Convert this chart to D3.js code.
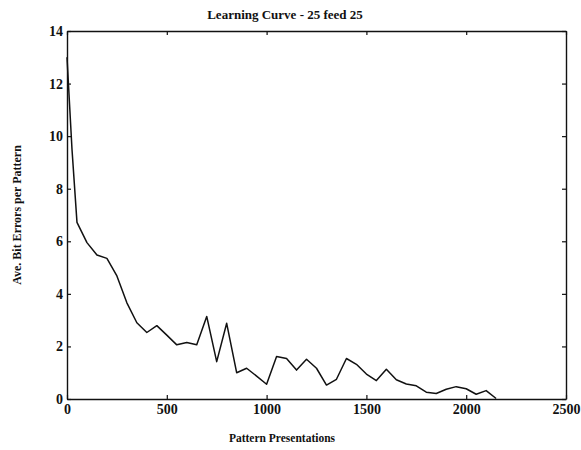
<!DOCTYPE html>
<html>
<head>
<meta charset="utf-8">
<script src="https://cdnjs.cloudflare.com/ajax/libs/d3/7.8.5/d3.min.js"></script>
<style>
body{margin:0;background:#fff;}
text{font-family:"Liberation Serif","DejaVu Serif",serif;fill:#111;}
</style>
</head>
<body>
<div id="chart"></div>
<script>
// learning curve samples (pattern presentations vs errors)
var presentations = [0,25,50,100,150,200,250,300,350,400,450,500,550,600,650,700,750,800,850,900,950,1000,
  1050,1100,1150,1200,1250,1300,1350,1400,1450,1500,1550,1600,1650,1700,1750,1800,1850,1900,1950,2000,2050,2100,2150];
var bitErrors = [13.0,9.5,6.72,5.95,5.48,5.35,4.68,3.66,2.9,2.53,2.79,2.43,2.06,2.15,2.06,3.14,1.42,2.88,1.0,1.17,0.87,0.56,
  1.62,1.54,1.1,1.51,1.17,0.53,0.75,1.54,1.32,0.95,0.7,1.13,0.73,0.57,0.5,0.26,0.21,0.37,0.47,0.39,0.18,0.32,0.02];
var xTicks = [0,500,1000,1500,2000,2500];
var yTicks = [0,2,4,6,8,10,12,14];

var W = 581, H = 450;
var margin = {top: 31, right: 15, bottom: 51, left: 67};
var width = W - margin.left - margin.right,
  height = H - margin.top - margin.bottom;

var svg = d3.select("#chart").append("svg")
  .attr("width", W).attr("height", H);
var g = svg.append("g")
  .attr("transform", "translate(" + margin.left + "," + margin.top + ")");

var x = d3.scaleLinear().domain([0, 2500]).range([0, width]);
var y = d3.scaleLinear().domain([0, 14]).range([height, 0]);
var fmt = d3.format("d");

// axes with inward ticks, box style
function styleAxis(sel, showText){
  sel.select(".domain").attr("stroke", "#111").attr("stroke-width", 1.4);
  sel.selectAll(".tick line").attr("stroke", "#111").attr("stroke-width", 1.2);
  sel.selectAll("text")
    .style("font-size", "14px")
    .style("font-weight", "bold")
    .attr("fill", "#111");
  if(!showText) sel.selectAll("text").remove();
}

g.append("g")
  .attr("transform", "translate(0," + height + ")")
  .call(d3.axisBottom(x).tickValues(xTicks).tickFormat(fmt).tickSizeInner(-4).tickSizeOuter(0).tickPadding(5))
  .call(styleAxis, true);

g.append("g")
  .call(d3.axisLeft(y).tickValues(yTicks).tickFormat(fmt).tickSizeInner(-4).tickSizeOuter(0).tickPadding(4))
  .call(styleAxis, true);

g.append("g")
  .call(d3.axisTop(x).tickValues(xTicks).tickSizeInner(-4).tickSizeOuter(0))
  .call(styleAxis, false);

g.append("g")
  .attr("transform", "translate(" + width + ",0)")
  .call(d3.axisRight(y).tickValues(yTicks).tickSizeInner(-4).tickSizeOuter(0))
  .call(styleAxis, false);

// the curve
var line = d3.line()
  .x(function(d, i){ return x(presentations[i]); })
  .y(function(d){ return y(d); });

g.append("path")
  .datum(bitErrors)
  .attr("fill", "none")
  .attr("stroke", "#111")
  .attr("stroke-width", 1.5)
  .attr("stroke-linejoin", "round")
  .attr("d", line);

// titles
svg.append("text")
  .attr("x", 285)
  .attr("y", 19)
  .attr("text-anchor", "middle")
  .style("font-size", "13px")
  .style("font-weight", "bold")
  .text("Learning Curve - 25 feed 25");

svg.append("text")
  .attr("x", 282)
  .attr("y", 442)
  .attr("text-anchor", "middle")
  .style("font-size", "11.5px")
  .style("font-weight", "bold")
  .text("Pattern Presentations");

svg.append("text")
  .attr("transform", "translate(21,215) rotate(-90)")
  .attr("text-anchor", "middle")
  .style("font-size", "12px")
  .style("font-weight", "bold")
  .text("Ave. Bit Errors per Pattern");
</script>
</body>
</html>
